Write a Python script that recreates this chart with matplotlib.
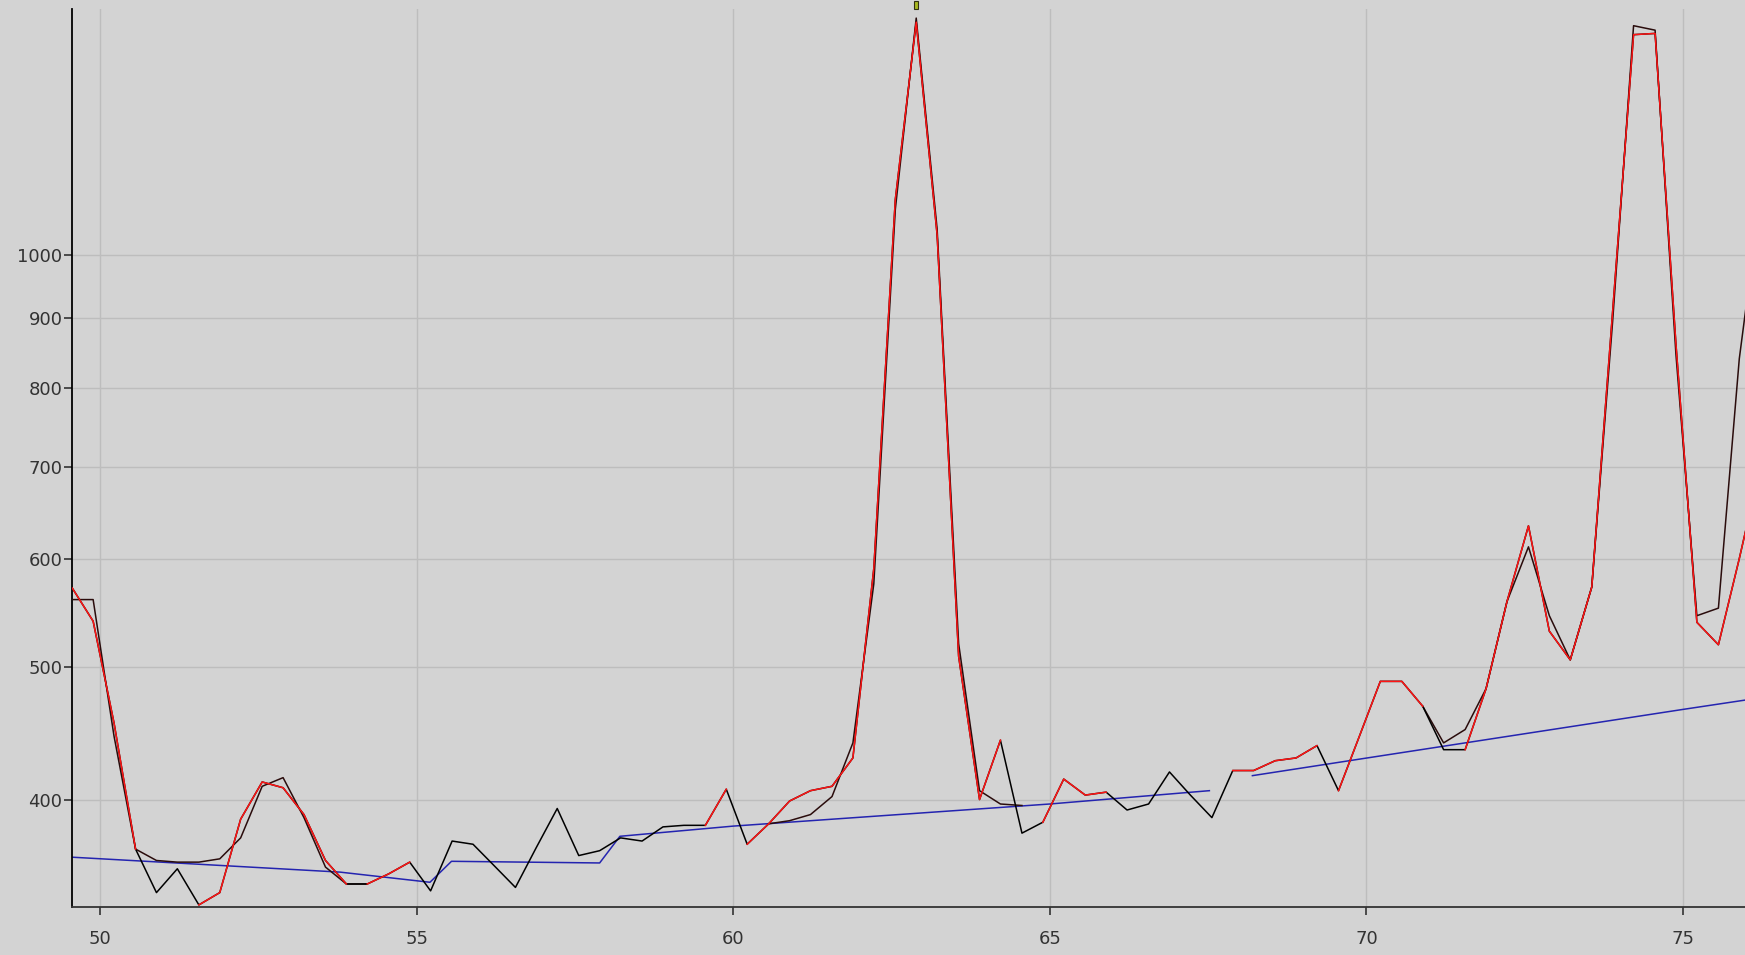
import numpy as np
import matplotlib.pyplot as plt
from matplotlib.transforms import blended_transform_factory
from matplotlib.ticker import FixedLocator, NullLocator, ScalarFormatter

# colours
my_bg = '#d3d3d3'
my_grid = '#bdbdbd'
my_red = '#ff1414'
my_dark = '#2a0c0c'
my_blue = '#2424b0'

# 2-theta grid of the scan
two_theta = [49.56, 49.89, 50.22, 50.56, 50.89, 51.22, 51.56, 51.89, 52.22, 52.56,
             52.89, 53.22, 53.56, 53.89, 54.22, 54.56, 54.89, 55.22, 55.56, 55.89,
             56.22, 56.56, 56.89, 57.22, 57.56, 57.89, 58.22, 58.56, 58.89, 59.22,
             59.56, 59.89, 60.22, 60.56, 60.89, 61.22, 61.56, 61.89, 62.22, 62.56,
             62.89, 63.22, 63.56, 63.89, 64.22, 64.56, 64.89, 65.22, 65.56, 65.89,
             66.22, 66.56, 66.89, 67.22, 67.56, 67.89, 68.22, 68.56, 68.89, 69.22,
             69.56, 69.89, 70.22, 70.56, 70.89, 71.22, 71.56, 71.89, 72.22, 72.56,
             72.89, 73.22, 73.56, 73.89, 74.22, 74.56, 74.89, 75.22, 75.56, 75.89,
             76.22]

# measured counts
counts = [571, 540, 455, 368, 342, 356, 335, 342, 387, 412,
          408, 390, 361, 347, 347, 353, 360, 343, 373, 371,
          358, 345, 369, 394, 364, 367, 375, 373, 382, 383,
          383, 407, 371, 384, 399, 406, 409, 429, 590, 1098,
          1480, 1035, 509, 400, 442, 378, 385, 414, 403, 405,
          393, 397, 419, 403, 388, 420, 420, 427, 429, 438,
          406, 445, 488, 488, 468, 435, 435, 482, 558, 634,
          531, 506, 572, 910, 1449, 1452, 860, 539, 519, 600,
          700]

# ranges of the scan drawn in red
red_spans = [(49.56, 50.56), (51.56, 53.89), (54.22, 54.89), (59.56, 59.89),
             (60.22, 64.22), (64.89, 65.89), (67.89, 69.22), (69.56, 70.89),
             (71.56, 76.22)]

# smoothed profile, three windows
fit1_x = [49.56, 49.89, 50.22, 50.56, 50.89, 51.22, 51.56, 51.89, 52.22, 52.56,
          52.89, 53.22, 53.56, 53.89, 54.22]
fit1_y = [560, 560, 445, 368, 361, 360, 360, 362, 375, 409,
          415, 388, 357, 347, 347]
fit2_x = [60.56, 60.89, 61.22, 61.56, 61.89, 62.22, 62.56, 62.89, 63.22, 63.56,
          63.89, 64.22, 64.56]
fit2_y = [384, 386, 390, 402, 440, 575, 1080, 1490, 1045, 520,
          406, 397, 396]
fit3_x = [70.89, 71.22, 71.56, 71.89, 72.22, 72.56, 72.89, 73.22, 73.56, 73.89,
          74.22, 74.56, 74.89, 75.22, 75.56, 75.89, 76.22]
fit3_y = [468, 440, 450, 482, 558, 612, 545, 506, 572, 895,
          1471, 1460, 845, 545, 552, 840, 1100]

# background lines
bg1_x = [49.56, 51.9, 53.79, 55.21, 55.55, 57.89, 58.21, 60.0, 65.0, 67.52]
bg1_y = [363, 358, 354, 348, 360.5, 359.5, 376, 382.5, 397, 406]
bg2_x = [68.2, 70.0, 75.0, 76.0]
bg2_y = [416.4, 428.9, 465.5, 473]

peak_x = 62.89

x = np.array(two_theta)
y = np.array(counts, dtype=float)

fig = plt.figure(figsize=(17.45, 9.55), dpi=100, facecolor=my_bg)
ax = fig.add_axes([0.0414, 0.0506, 0.9586, 0.94])
ax.set_facecolor(my_bg)

ax.plot(bg1_x, bg1_y, color=my_blue, lw=1.1, zorder=2)
ax.plot(bg2_x, bg2_y, color=my_blue, lw=1.1, zorder=2)

for fx, fy in [(fit1_x, fit1_y), (fit2_x, fit2_y), (fit3_x, fit3_y)]:
    ax.plot(fx, fy, color=my_dark, lw=1.1, zorder=3)

ax.plot(x, y, color='black', lw=1.1, zorder=4)
for a, b in red_spans:
    m = (x >= a - 1e-6) & (x <= b + 1e-6)
    ax.plot(x[m], y[m], color=my_red, lw=1.1, zorder=5)

# peak marker on top edge
trans = blended_transform_factory(ax.transData, ax.transAxes)
ax.add_patch(plt.Rectangle((peak_x - 0.035, 1.0), 0.07, 0.009, transform=trans,
                           facecolor='#a8b820', edgecolor='#303010', lw=0.8,
                           clip_on=False, zorder=6))

ax.set_yscale('log')
ax.set_xlim(49.56, 75.98)
ax.set_ylim(334, 1513)

ax.xaxis.set_major_locator(FixedLocator([50, 55, 60, 65, 70, 75]))
ax.yaxis.set_major_locator(FixedLocator([400, 500, 600, 700, 800, 900, 1000]))
ax.yaxis.set_minor_locator(NullLocator())
ax.yaxis.set_major_formatter(ScalarFormatter())

ax.grid(True, color=my_grid, lw=1.0)
ax.set_axisbelow(True)

for s in ['top', 'right']:
    ax.spines[s].set_visible(False)
ax.spines['left'].set_linewidth(1.3)
ax.spines['bottom'].set_linewidth(1.3)
ax.spines['bottom'].set_color('#333333')

ax.tick_params(axis='x', length=6, width=1.2, pad=11, labelsize=13, colors='#333333')
ax.tick_params(axis='y', length=6, width=1.2, pad=1, labelsize=13, colors='#333333')

fig.savefig('out.png', dpi=100, facecolor=my_bg)
